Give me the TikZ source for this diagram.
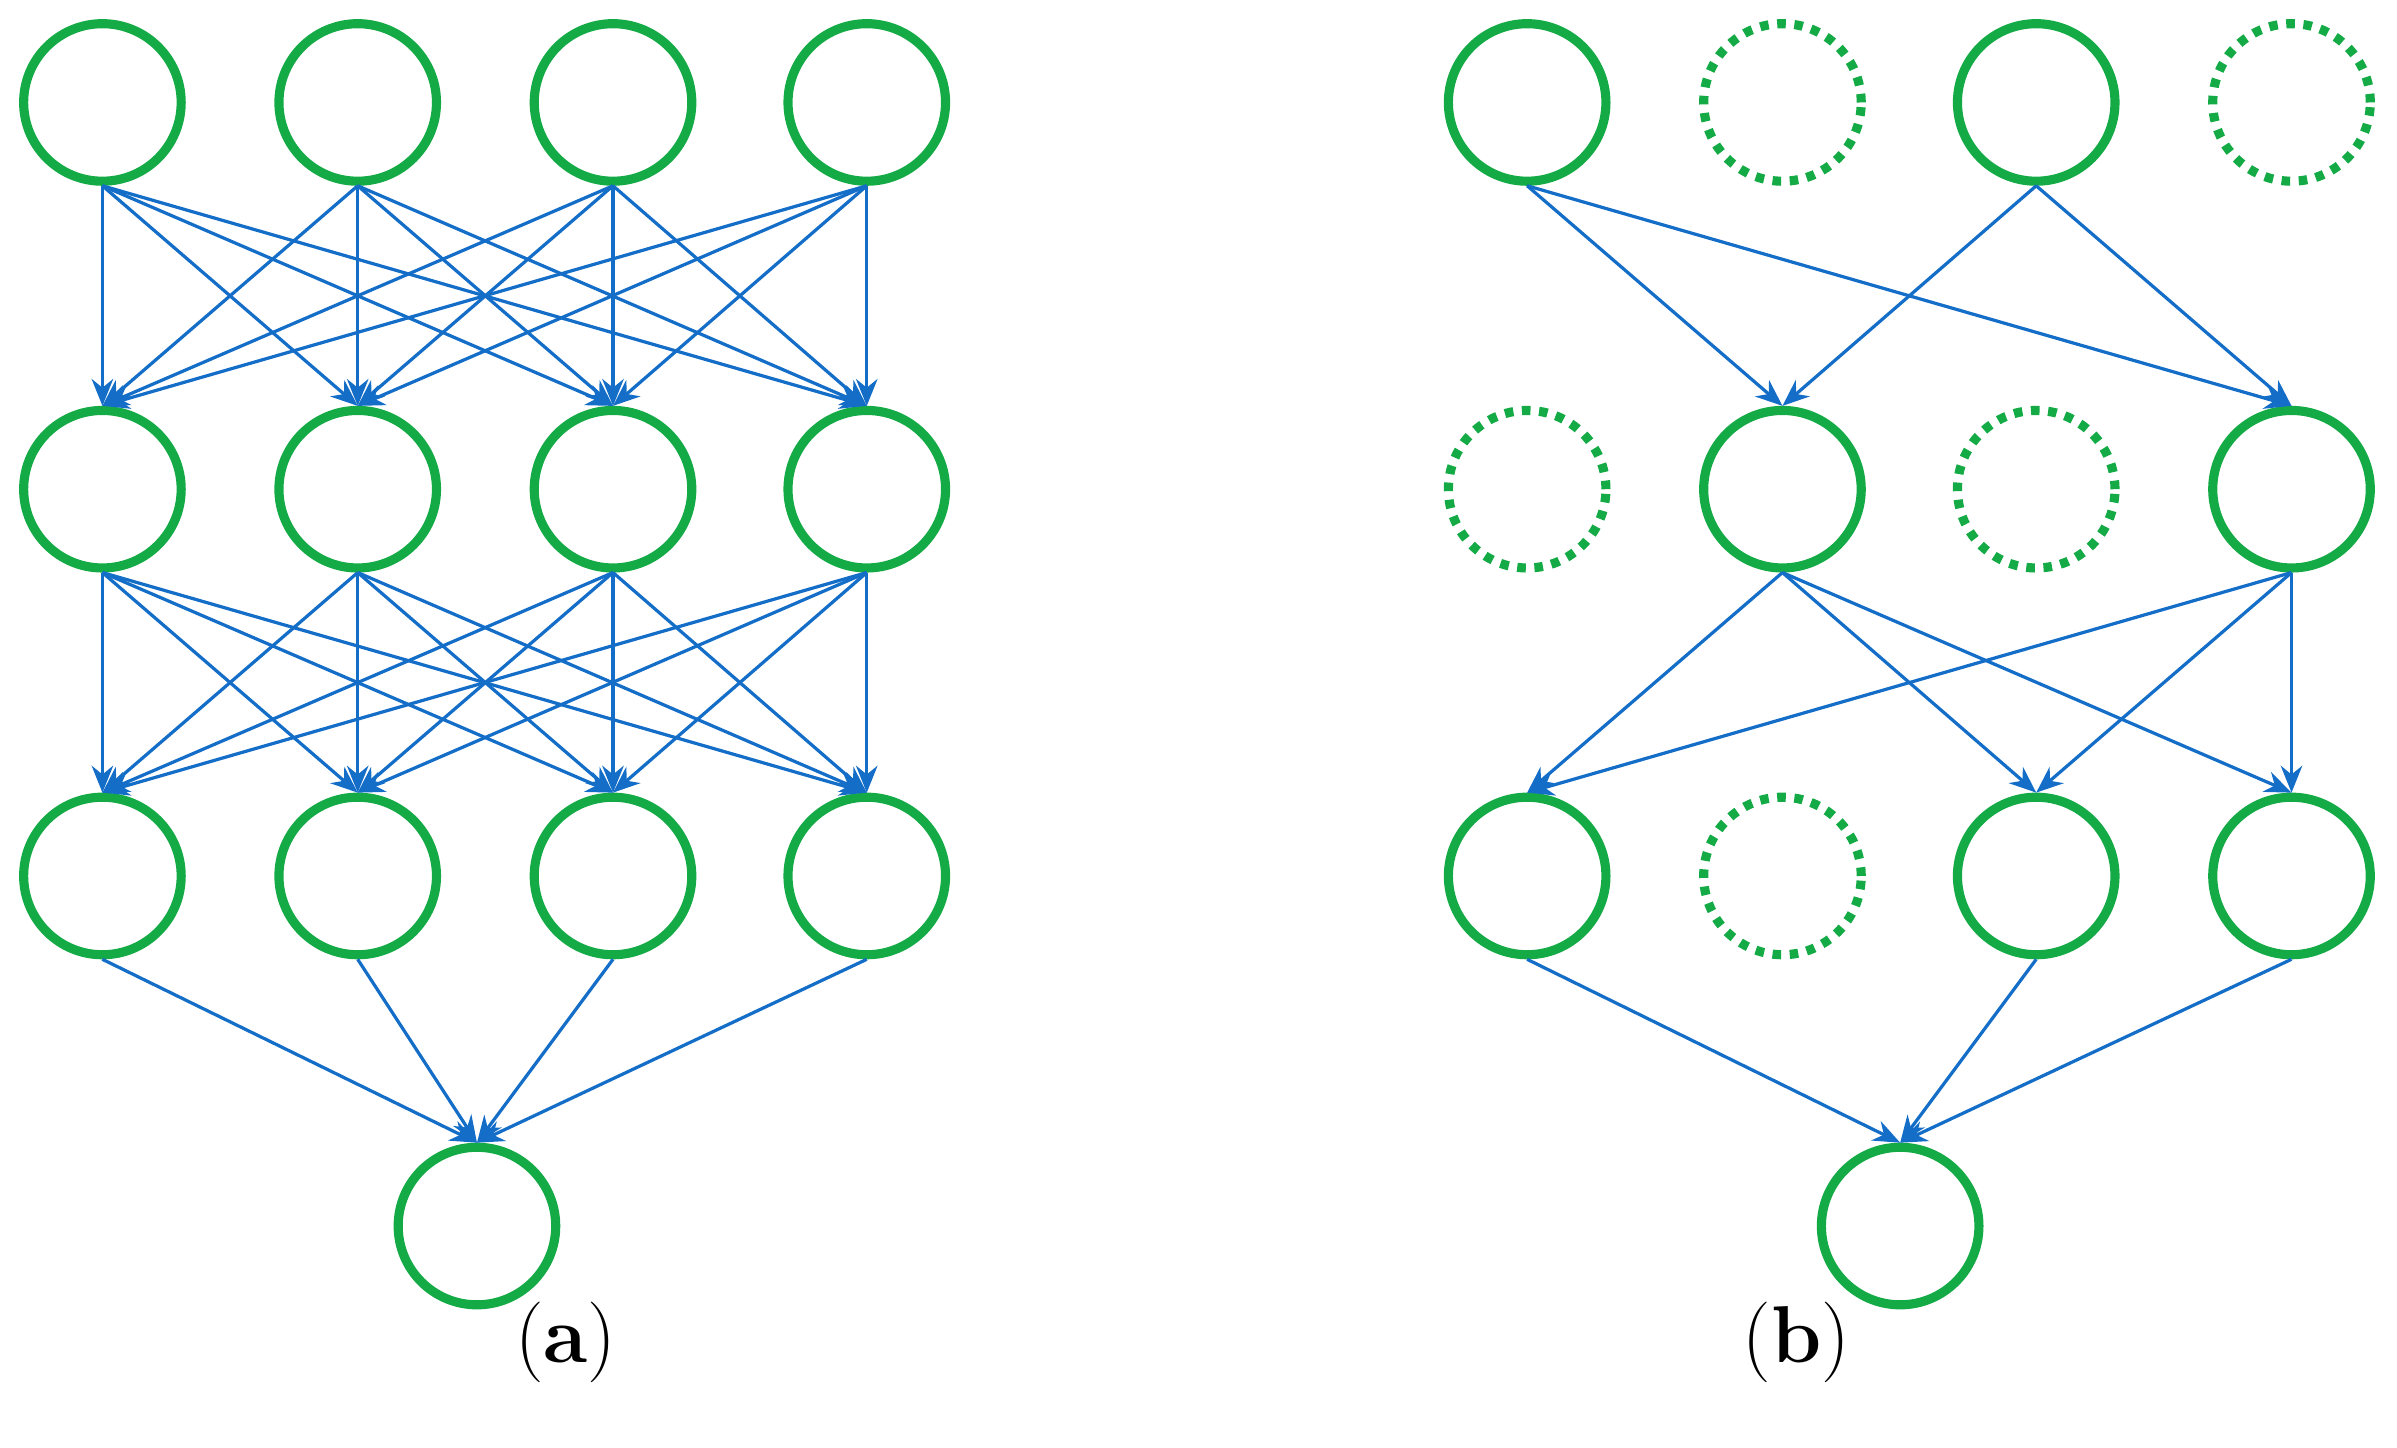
\documentclass[tikz,border=0pt]{standalone}
\usetikzlibrary{arrows.meta}
\definecolor{gr}{RGB}{20,170,70}
\definecolor{bl}{RGB}{20,110,200}
\begin{document}
\begin{tikzpicture}[x=0.01cm,y=-0.01cm,
  n/.style={circle,draw=gr,line width=1.7pt,minimum size=1.03cm,inner sep=0pt},
  d/.style={n,dash pattern=on 1.6pt off 1.6pt},
  e/.style={draw=bl,line width=0.6pt,-{Stealth[length=5pt,width=4pt]}}]
\useasboundingbox (0,0) rectangle (1568,947);
\foreach \r/\y in {1/67,2/320,3/573}{
  \foreach \c/\x in {1/67,2/234,3/401,4/567}{
    \node[n] (a\r\c) at (\x,\y) {};
  }}
\foreach \r/\y/\sa/\sb/\sc/\sd in {1/67/n/d/n/d,2/320/d/n/d/n,3/573/n/d/n/n}{
  \node[\sa] (b\r1) at (999,\y) {};
  \node[\sb] (b\r2) at (1166,\y) {};
  \node[\sc] (b\r3) at (1332,\y) {};
  \node[\sd] (b\r4) at (1499,\y) {};
}
\node[n] (ao) at (312,802) {};
\node[n] (bo) at (1243,802) {};
\foreach \r/\s in {1/2,2/3}{
  \foreach \i in {1,...,4}{\foreach \j in {1,...,4}{
    \draw[e] (a\r\i.south) -- (a\s\j.north);}}}
\foreach \i in {1,...,4}{\draw[e] (a3\i.south) -- (ao.north);}
\foreach \i/\j in {11/22,11/24,13/22,13/24,22/31,22/33,22/34,24/31,24/33,24/34}{
  \draw[e] (b\i.south) -- (b\j.north);}
\foreach \i in {31,33,34}{\draw[e] (b\i.south) -- (bo.north);}
\node[font=\fontsize{15}{17}\selectfont] (la) at (370,878) {(\textbf{a})};
\node[font=\fontsize{15}{17}\selectfont] (lb) at (1175,878) {(\textbf{b})};
\end{tikzpicture}
\end{document}
